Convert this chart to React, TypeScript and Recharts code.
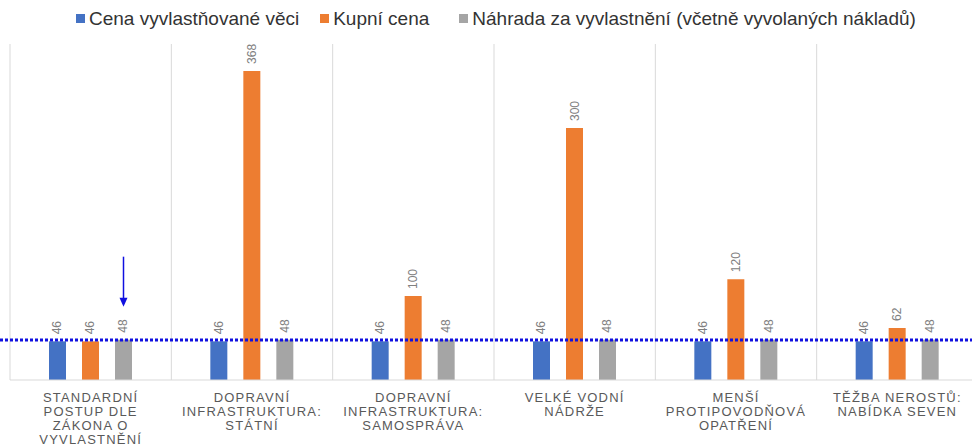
import React from "react";
import {
  BarChart,
  Bar,
  XAxis,
  YAxis,
  CartesianGrid,
  ReferenceLine,
  LabelList,
} from "recharts";

const categories = [
  "STANDARDNÍ\nPOSTUP DLE\nZÁKONA O\nVYVLASTNĚNÍ",
  "DOPRAVNÍ\nINFRASTRUKTURA:\nSTÁTNÍ",
  "DOPRAVNÍ\nINFRASTRUKTURA:\nSAMOSPRÁVA",
  "VELKÉ VODNÍ\nNÁDRŽE",
  "MENŠÍ\nPROTIPOVODŇOVÁ\nOPATŘENÍ",
  "TĚŽBA NEROSTŮ:\nNABÍDKA SEVEN",
];
const cenaVeci = [46, 46, 46, 46, 46, 46];
const kupniCena = [46, 368, 100, 300, 120, 62];
const nahrada = [48, 48, 48, 48, 48, 48];

const seriesNames = [
  "Cena vyvlastňované věci",
  "Kupní cena",
  "Náhrada za vyvlastnění (včetně vyvolaných nákladů)",
];
const seriesColors = ["#4472C4", "#ED7D31", "#A5A5A5"];
const thresholdValue = 47.5;
const yDomain = [0, 400];

const data = categories.map((name, i) => ({
  name,
  cena: cenaVeci[i],
  kupni: kupniCena[i],
  nahrada: nahrada[i],
}));

const FONT = "'Liberation Sans', Arial, sans-serif";
const MARK = "#1010e0";

const CategoryTick = (props: any) => {
  const { x, y, payload } = props;
  const lines = String(payload.value).split("\n");
  return (
    <g>
      {lines.map((line, i) => (
        <text
          key={i}
          x={x}
          y={y + 22 + i * 14}
          textAnchor="middle"
          fontSize={13}
          fontFamily={FONT}
          fill="#595959"
          style={{ letterSpacing: "1.2px" }}
        >
          {line}
        </text>
      ))}
    </g>
  );
};

const makeValueLabel = (withArrow: boolean) => (props: any) => {
  const vb = props.viewBox || {};
  const bx = vb.x ?? props.x;
  const by = vb.y ?? props.y;
  const bw = vb.width ?? props.width;
  const cx = bx + bw / 2;
  const ty = by - 7;
  return (
    <g>
      <text
        x={cx}
        y={ty}
        transform={`rotate(-90, ${cx}, ${ty})`}
        textAnchor="start"
        dominantBaseline="central"
        fontSize={12}
        fontFamily={FONT}
        fill="#808080"
      >
        {props.value}
      </text>
      {withArrow && props.index === 0 && (
        <g>
          <line x1={cx} y1={by - 83} x2={cx} y2={by - 40} stroke={MARK} strokeWidth={1.5} />
          <polygon
            points={`${cx},${by - 33} ${cx - 4},${by - 42} ${cx + 4},${by - 42}`}
            fill={MARK}
          />
        </g>
      )}
    </g>
  );
};

const Legend = () => (
  <div
    style={{
      position: "absolute",
      top: 9,
      left: 76,
      display: "flex",
      alignItems: "center",
      fontFamily: FONT,
      fontSize: 19,
      lineHeight: "19px",
      color: "#333",
      whiteSpace: "nowrap",
    }}
  >
    {seriesNames.map((n, i) => (
      <div key={n} style={{ display: "flex", alignItems: "center", marginRight: i === 0 ? 21 : 30 }}>
        <span
          style={{ width: 9, height: 9, background: seriesColors[i], marginRight: 4, display: "inline-block" }}
        />
        <span>{n}</span>
      </div>
    ))}
  </div>
);

export default function App() {
  return (
    <div
      style={{
        position: "absolute",
        left: 0,
        top: 0,
        width: 972,
        height: 448,
        overflow: "hidden",
        background: "#fff",
      }}
    >
      <BarChart
        width={980}
        height={448}
        data={data}
        barGap={16}
        margin={{ top: 44, right: 2, left: 10, bottom: 8 }}
      >
        <CartesianGrid
          horizontal={false}
          stroke="#d9d9d9"
          verticalCoordinatesGenerator={({ offset }: any) => {
            const step = offset.width / categories.length;
            return Array.from({ length: categories.length + 1 }, (_, i) => offset.left + i * step);
          }}
        />
        <XAxis
          dataKey="name"
          interval={0}
          height={60}
          tickSize={0}
          tickMargin={0}
          tickLine={false}
          axisLine={{ stroke: "#d9d9d9" }}
          tick={<CategoryTick />}
        />
        <YAxis hide domain={yDomain} />
        <Bar dataKey="cena" name={seriesNames[0]} fill={seriesColors[0]} barSize={17} isAnimationActive={false}>
          <LabelList dataKey="cena" content={makeValueLabel(false)} />
        </Bar>
        <Bar dataKey="kupni" name={seriesNames[1]} fill={seriesColors[1]} barSize={17} isAnimationActive={false}>
          <LabelList dataKey="kupni" content={makeValueLabel(false)} />
        </Bar>
        <Bar dataKey="nahrada" name={seriesNames[2]} fill={seriesColors[2]} barSize={17} isAnimationActive={false}>
          <LabelList dataKey="nahrada" content={makeValueLabel(true)} />
        </Bar>
        <ReferenceLine
          y={thresholdValue}
          ifOverflow="visible"
          shape={(p: any) => (
            <line
              x1={0}
              x2={980}
              y1={p.y1}
              y2={p.y2}
              stroke={MARK}
              strokeWidth={3}
              strokeDasharray="3 2"
            />
          )}
        />
      </BarChart>
      <Legend />
    </div>
  );
}
